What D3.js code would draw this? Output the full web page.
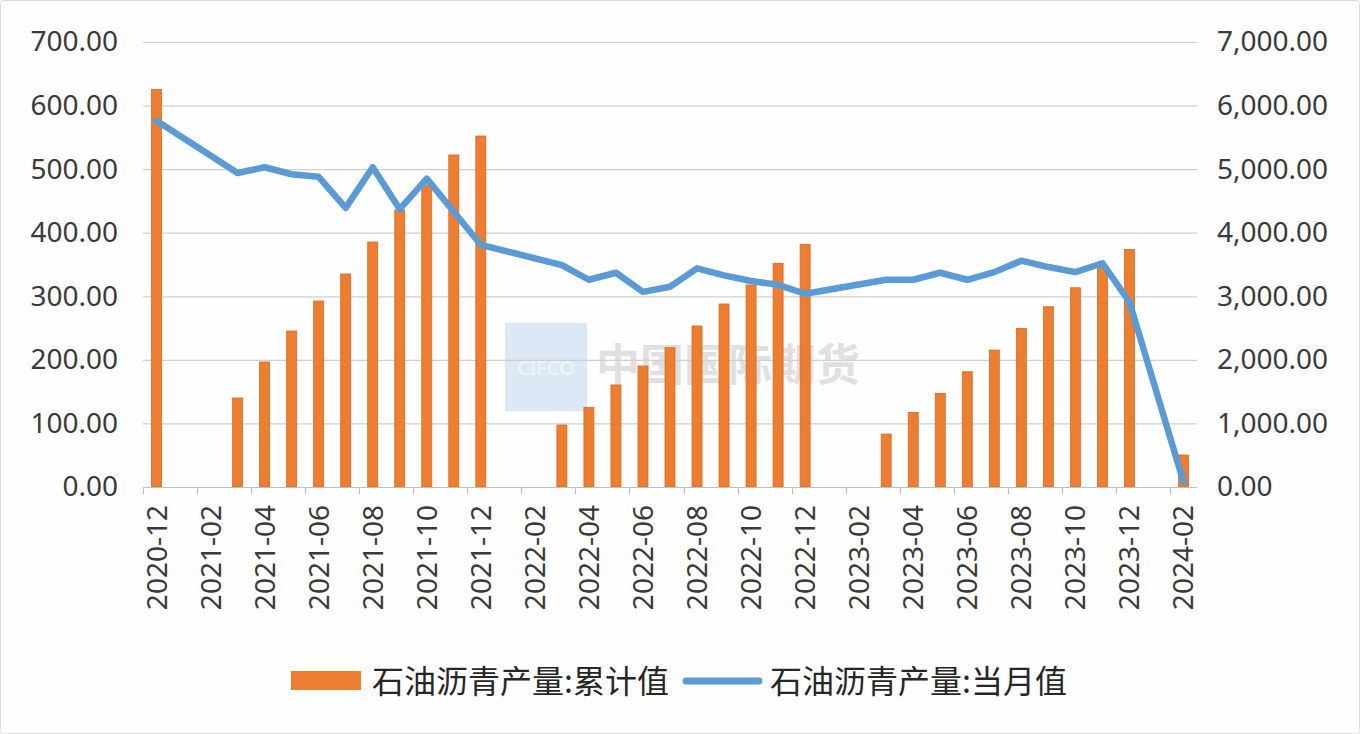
<!DOCTYPE html>
<html>
<head>
<meta charset="utf-8">
<script src="https://cdn.jsdelivr.net/npm/d3@7/dist/d3.min.js"></script>
<style>
  html, body { margin: 0; padding: 0; background: #ffffff; }
  svg { display: block; }
</style>
</head>
<body>
<svg id="chart" width="1360" height="734"></svg>
<script>
// ---- data ----
const categories = [
  "2020-12",
  "2021-01","2021-02","2021-03","2021-04","2021-05","2021-06","2021-07","2021-08","2021-09","2021-10","2021-11","2021-12",
  "2022-01","2022-02","2022-03","2022-04","2022-05","2022-06","2022-07","2022-08","2022-09","2022-10","2022-11","2022-12",
  "2023-01","2023-02","2023-03","2023-04","2023-05","2023-06","2023-07","2023-08","2023-09","2023-10","2023-11","2023-12",
  "2024-01","2024-02"
];
// 石油沥青产量:累计值 (right axis)
const cumulative = [
  6253,
  null, null, 1400, 1966, 2454, 2926, 3351, 3854, 4357, 4751, 5223, 5521,
  null, null, 975, 1254, 1605, 1903, 2191, 2533, 2879, 3178, 3519, 3818,
  null, null, 833, 1174, 1473, 1813, 2154, 2495, 2835, 3134, 3464, 3737,
  null, 503
];
// 石油沥青产量:当月值 (left axis)
const monthly = [
  576,
  null, null, 494, 503, 492, 488, 439, 503, 437, 485, 433, 381,
  null, null, 349, 326, 337, 307, 315, 344, 333, 324, 318, 304,
  null, null, 326, 326, 337, 326, 338, 356, 346, 338, 352, 291,
  null, 8
];
const leftTicks = [0, 100, 200, 300, 400, 500, 600, 700];
const rightTicks = [0, 1000, 2000, 3000, 4000, 5000, 6000, 7000];
const seriesNames = ["石油沥青产量:累计值", "石油沥青产量:当月值"];
const watermarkText = "中国国际期货";
const watermarkLogo = "CIFCO";

// ---- layout ----
const W = 1360, H = 734;
const plot = { left: 143, right: 1197, top: 42, bottom: 487 };
const barColor = "#ED7D31", lineColor = "#5B9BD5";
const textColor = "#3a3a3a";
const numFont = "'Noto Sans', 'Open Sans', 'DejaVu Sans', sans-serif";
const cjkFont = "'Noto Sans CJK SC', 'Noto Sans', sans-serif";

const svg = d3.select("#chart");

svg.append("rect").attr("x", 0.5).attr("y", 0.5).attr("width", W - 1).attr("height", H - 1)
  .attr("rx", 3).attr("fill", "#fefefe").attr("stroke", "#dadada");

const x = d3.scaleBand().domain(categories).range([plot.left, plot.right]).padding(0);
const yL = d3.scaleLinear().domain([0, 700]).range([plot.bottom, plot.top]);
const yR = d3.scaleLinear().domain([0, 7000]).range([plot.bottom, plot.top]);
const fmt = d3.format(",.2f");

// watermark
const wm = svg.append("g").attr("class", "watermark");
wm.append("rect").attr("x", 505).attr("y", 323).attr("width", 82).attr("height", 88)
  .attr("fill", "#dce8f5");
wm.append("text").attr("x", 546).attr("y", 375).attr("text-anchor", "middle")
  .attr("font-family", numFont).attr("font-size", 20)
  .attr("fill", "#ffffff").attr("opacity", 0.6).text(watermarkLogo);
wm.append("text").attr("x", 596).attr("y", 381)
  .attr("font-family", cjkFont).attr("font-size", 44).attr("font-weight", 700)
  .attr("fill", "#c4c4c4").attr("opacity", 0.5).text(watermarkText);

// gridlines
svg.append("g").selectAll("line").data(leftTicks.filter(d => d > 0)).join("line")
  .attr("x1", plot.left).attr("x2", plot.right)
  .attr("y1", d => yL(d) + 0.5).attr("y2", d => yL(d) + 0.5)
  .attr("stroke", "#cfcfcf").attr("stroke-width", 1.2);

// left axis labels
const axL = svg.append("g").attr("transform", `translate(${plot.left},0)`)
  .call(d3.axisLeft(yL).tickValues(leftTicks).tickFormat(fmt).tickSize(0).tickPadding(25));
axL.select(".domain").remove();
axL.selectAll("text").attr("font-family", numFont).attr("font-size", 28).attr("fill", textColor);

// right axis labels
const axR = svg.append("g").attr("transform", `translate(${plot.right},0)`)
  .call(d3.axisRight(yR).tickValues(rightTicks).tickFormat(fmt).tickSize(0).tickPadding(20));
axR.select(".domain").remove();
axR.selectAll("text").attr("font-family", numFont).attr("font-size", 28).attr("fill", textColor);

// bars
const barW = x.step() * 0.37;
svg.append("g").selectAll("rect")
  .data(categories.map((c, i) => ({ c, v: cumulative[i] })).filter(d => d.v != null))
  .join("rect")
  .attr("x", d => x(d.c) + x.bandwidth() / 2 - barW / 2)
  .attr("width", barW)
  .attr("y", d => yR(d.v))
  .attr("height", d => yR(0) - yR(d.v))
  .attr("fill", barColor).attr("stroke", "#d86a22").attr("stroke-width", 0.8);

// x axis line & ticks
svg.append("line").attr("x1", plot.left).attr("x2", plot.right)
  .attr("y1", plot.bottom + 0.5).attr("y2", plot.bottom + 0.5)
  .attr("stroke", "#bfbfbf").attr("stroke-width", 1.2);
const labeled = categories.filter((c, i) => i % 2 === 0);
svg.append("g").selectAll("line").data(labeled).join("line")
  .attr("x1", d => Math.round(x(d)) + 0.5).attr("x2", d => Math.round(x(d)) + 0.5)
  .attr("y1", plot.bottom).attr("y2", plot.bottom + 7)
  .attr("stroke", "#bfbfbf").attr("stroke-width", 1.2);
svg.append("g").selectAll("text").data(labeled).join("text")
  .attr("transform", d => `translate(${x(d) + x.bandwidth() / 2 + 10},${plot.bottom + 18}) rotate(-90)`)
  .attr("text-anchor", "end")
  .attr("font-family", numFont).attr("font-size", 28).attr("fill", textColor)
  .text(d => d.slice(0, 4) + "-" + d.slice(5));

// line (connects across missing months)
const linePts = categories.map((c, i) => ({ c, v: monthly[i] })).filter(d => d.v != null);
svg.append("path").datum(linePts)
  .attr("fill", "none").attr("stroke", lineColor).attr("stroke-width", 6.5)
  .attr("stroke-linejoin", "round").attr("stroke-linecap", "round")
  .attr("d", d3.line().x(d => x(d.c) + x.bandwidth() / 2).y(d => yL(d.v)));

// legend
const lg = svg.append("g");
lg.append("rect").attr("x", 291).attr("y", 671).attr("width", 70).attr("height", 19).attr("fill", barColor);
lg.append("text").attr("x", 372).attr("y", 693)
  .attr("font-family", cjkFont).attr("font-size", 32).attr("fill", "#262626").text(seriesNames[0]);
lg.append("line").attr("x1", 686).attr("x2", 759).attr("y1", 681).attr("y2", 681)
  .attr("stroke", lineColor).attr("stroke-width", 7).attr("stroke-linecap", "round");
lg.append("text").attr("x", 770).attr("y", 693)
  .attr("font-family", cjkFont).attr("font-size", 32).attr("fill", "#262626").text(seriesNames[1]);
</script>
</body>
</html>
